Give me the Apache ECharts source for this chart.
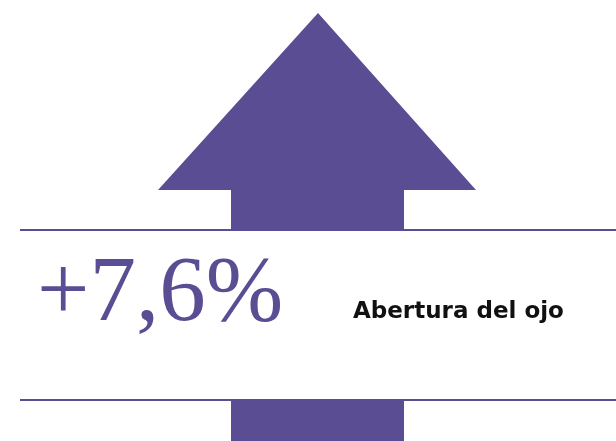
<!DOCTYPE html>
<html><head><meta charset="utf-8">
<script src="https://cdn.jsdelivr.net/npm/echarts@6/dist/echarts.min.js"></script>
<style>html,body{margin:0;padding:0;background:#fff}#c{width:616px;height:441px}</style>
</head><body><div id="c"></div>
<script>
var values = [7.6];
var labels = ['Abertura del ojo'];
var valueTexts = ['+7,6%'];

var purple = '#5b4d94';
var chart = echarts.init(document.getElementById('c'), null, {renderer:'canvas'});
chart.setOption({
  backgroundColor:'#ffffff',
  animation:false,
  graphic:[
    {type:'polygon', shape:{points:[[318,13],[476,190],[404,190],[404,229],[231,229],[231,190],[158,190]]}, style:{fill:purple}},
    {type:'rect', shape:{x:231,y:400,width:173,height:41}, style:{fill:purple}},
    {type:'rect', shape:{x:20,y:229,width:596,height:2}, style:{fill:purple}},
    {type:'rect', shape:{x:20,y:399,width:596,height:2}, style:{fill:purple}},
    {type:'text', x:37, y:296, style:{text:valueTexts[0], fontFamily:'Liberation Serif', fontSize:93, fontWeight:'normal', fill:purple, verticalAlign:'middle', align:'left'}},
    {type:'text', x:353, y:312, style:{text:labels[0], fontFamily:'DejaVu Sans', fontSize:23, fontWeight:'bold', fill:'#111111', verticalAlign:'middle', align:'left'}}
  ]
});
</script></body></html>
